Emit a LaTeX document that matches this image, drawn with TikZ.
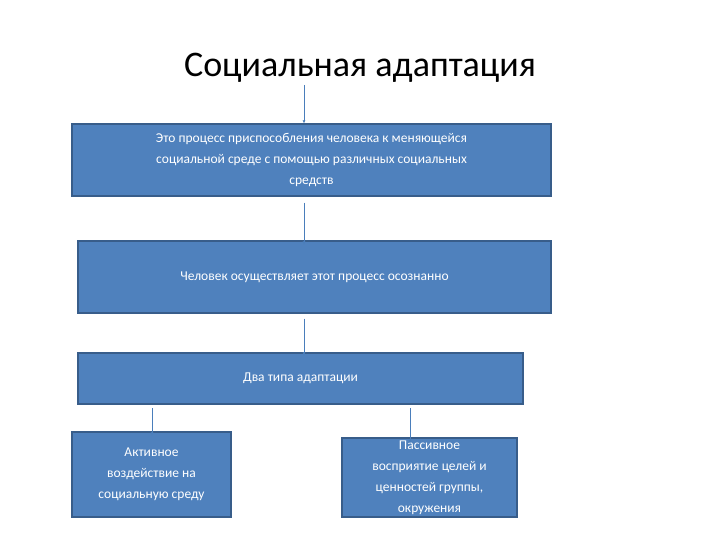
\documentclass[tikz,border=0pt]{standalone}
\usepackage{fontspec}
\setmainfont{Carlito}
\usetikzlibrary{arrows.meta}
\definecolor{boxfill}{HTML}{4F81BD}
\definecolor{boxline}{HTML}{385D8A}
\definecolor{arr}{HTML}{4A7EBB}
\begin{document}
\begin{tikzpicture}[x=1pt,y=-1pt,
  bx/.style={draw=boxline,fill=boxfill,line width=1.2pt,text=white,align=center,inner sep=0pt,font=\fontsize{13.5}{21}\selectfont},
  ar/.style={draw=arr,line width=1pt,-{Latex[length=3pt,width=3pt]}}]
\useasboundingbox (0,0) rectangle (720,540);
\node (title) at (360,68) {\fontsize{36}{40}\selectfont Социальная адаптация};
\node[bx,minimum width=479,minimum height=72] (b1) at (311.5,160) {Это процесс приспособления человека к меняющейся\\социальной среде с помощью различных социальных\\средств};
\node[bx,minimum width=473,minimum height=72] (b2) at (314.5,277) {Человек осуществляет этот процесс осознанно};
\node[bx,minimum width=445,minimum height=51] (b3) at (300.5,378.5) {Два типа адаптации};
\node[bx,minimum width=159,minimum height=85] (b4) at (151.5,474.5) {Активное\\воздействие на\\социальную среду};
\node[bx,minimum width=175,minimum height=79] (b5) at (429.5,477.5) {Пассивное\\восприятие целей и\\ценностей группы,\\окружения};
\coordinate (a0) at (304,85);
\draw[ar] (a0) -- (b1.north -| a0);
\draw[ar] ([yshift=-6pt]b1.south -| a0) -- ([yshift=-4pt]b2.north -| a0);
\draw[ar] ([yshift=-5pt]b2.south -| a0) -- ([yshift=-3pt]b3.north -| a0);
\coordinate (l) at (152,408); \coordinate (r) at (410,408);
\draw[ar] (l) -- ([yshift=-4pt]b4.north -| l);
\draw[ar] (r) -- ([yshift=-6pt]b5.north -| r);
\end{tikzpicture}
\end{document}
